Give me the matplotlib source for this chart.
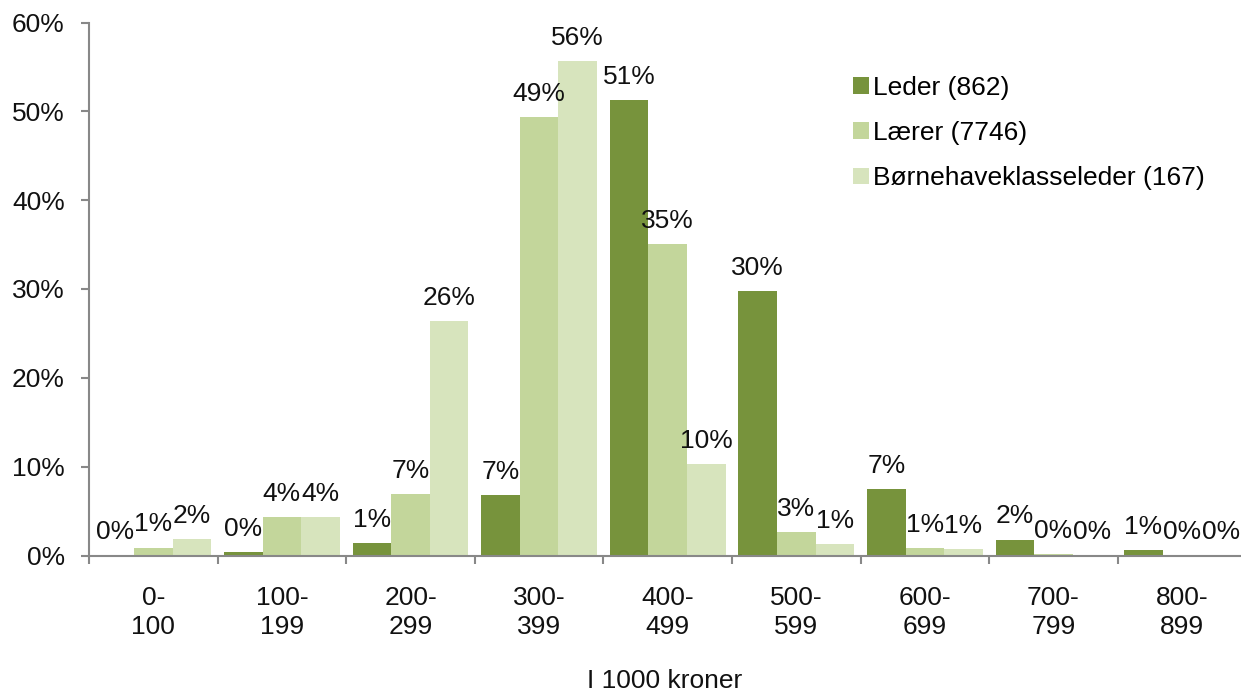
import matplotlib
matplotlib.use("Agg")
import matplotlib.pyplot as plt
import numpy as np
from matplotlib.transforms import blended_transform_factory

plt.rcParams['font.family'] = ['Liberation Sans', 'DejaVu Sans']

categories = ["0-\n100", "100-\n199", "200-\n299", "300-\n399", "400-\n499",
              "500-\n599", "600-\n699", "700-\n799", "800-\n899"]
series_names = ["Leder (862)", "Lærer (7746)", "Børnehaveklasseleder (167)"]
leder = [0.0, 0.4, 1.45, 6.85, 51.3, 29.8, 7.45, 1.8, 0.65]
laerer = [0.9, 4.3, 6.95, 49.4, 35.1, 2.6, 0.8, 0.2, 0.05]
boern = [1.9, 4.3, 26.4, 55.7, 10.3, 1.3, 0.7, 0.1, 0.0]
colors = ["#77933C", "#C3D69B", "#D7E4BD"]
yticks = [0, 10, 20, 30, 40, 50, 60]

FS = 19
W, H = 1241, 693
fig = plt.figure(figsize=(W / 100, H / 100), dpi=100)
left, right, bottom, top = 89, 1241, 555.5, 22.5
ax = fig.add_axes([left / W, 1 - bottom / H, (right - left) / W, (bottom - top) / H])

group_px = 128.6
n = len(categories)
x = np.arange(n)
xmax = (right - left) / group_px - 0.5
ax.set_xlim(-0.5, xmax)
ax.set_ylim(0, 60)

bw = 0.3
for i, (vals, c, name) in enumerate(zip([leder, laerer, boern], colors, series_names)):
    pos = x + (i - 1) * bw
    ax.bar(pos, vals, width=bw, color=c, label=name, edgecolor='none')
    for p, v in zip(pos, vals):
        ax.annotate(f"{round(v):d}%", (p, v), xytext=(0, 8), textcoords='offset points',
                    ha='center', va='bottom', fontsize=FS, color='#111111')

for s in ['top', 'right']:
    ax.spines[s].set_visible(False)
for s in ['left', 'bottom']:
    ax.spines[s].set_color('#888888')
    ax.spines[s].set_linewidth(1.5)

ax.set_yticks(yticks)
ax.set_yticklabels([f"{t}%" for t in yticks], fontsize=FS, color='#111111')
ax.tick_params(axis='y', length=6, width=1.5, color='#888888', pad=11.5)

bounds = np.arange(-0.5, xmax, 1.0)
ax.set_xticks(bounds)
ax.set_xticklabels([])
ax.tick_params(axis='x', length=6, width=1.5, color='#888888', direction='out')

trans = blended_transform_factory(ax.transData, fig.transFigure)
for xi, lab in zip(x, categories):
    ax.text(xi, 1 - 586 / H, lab, transform=trans, ha='center', va='top',
            fontsize=FS, color='#111111', linespacing=1.25)

fig.text((left + right) / 2 / W, 1 - 681 / H, "I 1000 kroner", ha='center', va='center',
         fontsize=FS, color='#111111')

leg = ax.legend(loc='upper left', bbox_to_anchor=((853 - left) / (right - left), (bottom - 76) / (bottom - top)),
                frameon=False, fontsize=FS, handlelength=0.6, handleheight=0.6,
                handletextpad=0.15, labelspacing=0.8, borderaxespad=0, borderpad=0)

fig.savefig("out.png", dpi=100)
